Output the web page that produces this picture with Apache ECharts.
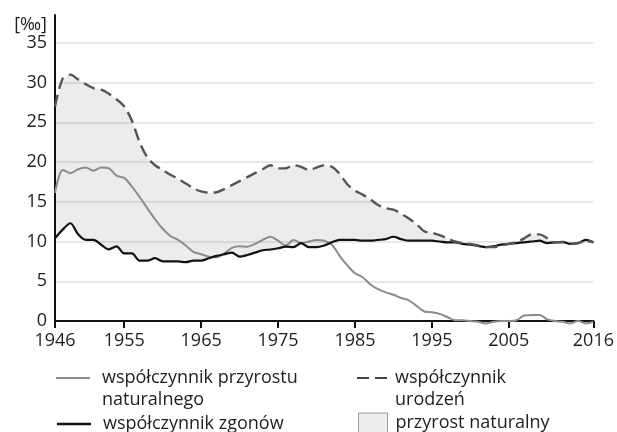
<!DOCTYPE html>
<html>
<head>
<meta charset="utf-8">
<script src="https://cdn.jsdelivr.net/npm/echarts@6/dist/echarts.min.js"></script>
<style>
html,body{margin:0;padding:0;background:#fff;}
#chart{width:617px;height:432px;}
</style>
</head>
<body>
<div id="chart"></div>
<script>
const years = [1946,1947,1948,1949,1950,1951,1952,1953,1954,1955,
  1956,1957,1958,1959,1960,1961,1962,1963,1964,1965,
  1966,1967,1968,1969,1970,1971,1972,1973,1974,1975,
  1976,1977,1978,1979,1980,1981,1982,1983,1984,1985,
  1986,1987,1988,1989,1990,1991,1992,1993,1994,1995,
  1996,1997,1998,1999,2000,2001,2002,2003,2004,2005,
  2006,2007,2008,2009,2010,2011,2012,2013,2014,2015,2016];

const birthRate = [27.0,30.5,31.0,30.4,29.8,29.3,29.1,28.6,27.9,27.0,
  25.2,22.5,20.6,19.6,19.0,18.4,17.9,17.3,16.7,16.3,
  16.15,16.2,16.6,17.1,17.6,18.1,18.6,19.1,19.6,19.2,
  19.2,19.6,19.4,19.0,19.3,19.6,19.4,18.5,17.2,16.4,
  15.9,15.3,14.6,14.2,14.0,13.5,12.9,12.2,11.3,11.1,
  10.8,10.4,10.0,9.8,9.7,9.5,9.3,9.3,9.5,9.7,
  9.9,10.4,10.9,10.9,10.4,9.9,9.9,9.7,9.8,10.1,9.9];

const deathRate = [10.4,11.5,12.3,10.9,10.2,10.2,9.6,9.0,9.4,8.5,
  8.5,7.6,7.6,7.9,7.5,7.5,7.5,7.4,7.6,7.6,
  7.9,8.2,8.4,8.6,8.1,8.3,8.6,8.9,9.0,9.15,
  9.35,9.3,9.8,9.3,9.3,9.5,9.9,10.2,10.2,10.2,
  10.1,10.1,10.2,10.3,10.6,10.3,10.1,10.1,10.1,10.1,
  10.0,9.9,9.9,9.7,9.6,9.45,9.3,9.4,9.6,9.7,
  9.8,9.9,10.0,10.1,9.8,9.9,9.95,9.7,9.8,10.2,9.9];

const naturalIncrease = [16.1,19.0,18.6,19.1,19.3,18.9,19.3,19.2,18.3,18.0,
  16.9,15.6,14.2,12.8,11.6,10.7,10.2,9.5,8.7,8.4,
  8.1,8.0,8.5,9.2,9.4,9.35,9.7,10.2,10.6,10.1,
  9.5,10.2,9.8,10.0,10.2,10.1,9.6,8.2,7.0,6.0,
  5.5,4.6,4.0,3.6,3.3,2.9,2.6,1.9,1.2,1.1,
  0.9,0.5,0.1,0.1,0.0,-0.1,-0.3,-0.1,0.0,0.0,
  0.1,0.7,0.75,0.75,0.2,0.0,-0.1,-0.3,0.0,-0.3,-0.1];

const xTickLabels = [1946,1955,1965,1975,1985,1995,2005,2016];
const yTickLabels = [0,5,10,15,20,25,30,35];

const NAME_NI = 'współczynnik przyrostu\nnaturalnego';
const NAME_DEATH = 'współczynnik zgonów';
const NAME_BIRTH = 'współczynnik\nurodzeń';
const NAME_BAND = 'przyrost naturalny';

const pairs = (arr) => years.map((y, i) => [y, arr[i]]);

const FONT = 'Open Sans';
const TXT = {fontSize: 18, fontFamily: FONT, color: '#1e1e1e', lineHeight: 22};

function legendBox(left, top, name, icon, w, h, padL, twoLine, itemStyle) {
  return {
    left: left, top: top, orient: 'vertical', padding: 0, itemGap: 0,
    itemWidth: w, itemHeight: h, selectedMode: false,
    textStyle: Object.assign({padding: [0, 0, 0, padL]}, TXT),
    formatter: twoLine ? (n) => ' \n' + n : (n) => n,
    data: [{name: name, icon: icon, itemStyle: itemStyle}]
  };
}

const chart = echarts.init(document.getElementById('chart'), null, {renderer: 'canvas'});
chart.setOption({
  animation: false,
  backgroundColor: '#ffffff',
  textStyle: {fontFamily: FONT},
  grid: {left: 55, right: 22, top: 15, bottom: 111, containLabel: false},
  xAxis: {
    type: 'value', min: 1946, max: 2016,
    axisLine: {show: true, lineStyle: {color: '#111', width: 2}},
    axisTick: {show: true, customValues: xTickLabels, length: 7, lineStyle: {color: '#111', width: 2}},
    axisLabel: {customValues: xTickLabels, margin: 11, color: '#1e1e1e', fontSize: 18, fontFamily: FONT,
      formatter: (v) => String(v)},
    splitLine: {show: false}
  },
  yAxis: {
    type: 'value', min: 0, max: 38.5,
    name: '[‰]', nameLocation: 'end', nameGap: -15,
    nameTextStyle: {color: '#1e1e1e', fontSize: 18, fontFamily: FONT, align: 'right', verticalAlign: 'middle', padding: [0, 8, 0, 0]},
    axisLine: {show: true, lineStyle: {color: '#111', width: 2}},
    axisTick: {show: false, customValues: yTickLabels},
    axisLabel: {customValues: yTickLabels, margin: 8, color: '#1e1e1e', fontSize: 18, fontFamily: FONT},
    splitLine: {show: true, lineStyle: {color: '#e2e2e2', width: 1.5}}
  },
  legend: [
    legendBox(56, 345, NAME_NI, 'rect', 34, 2, 7, true, {color: '#8c8c8c'}),
    legendBox(57, 413, NAME_DEATH, 'rect', 34, 2.5, 7, false, {color: '#111'}),
    legendBox(357, 345, NAME_BIRTH, 'path://M0,0h12v2h-12z M18,0h12v2h-12z', 30, 2, 3, true, {color: '#444'}),
    legendBox(358, 412, NAME_BAND, 'rect', 29, 20, 3, false, {color: '#ededed', borderColor: '#9a9a9a', borderWidth: 1})
  ],
  series: [
    {
      name: NAME_BAND, type: 'custom', silent: true, z: 1,
      color: '#ededed',
      data: [[years[0], birthRate[0]]],
      renderItem: function (params, api) {
        const pts = [];
        for (let i = 0; i < years.length; i++) pts.push(api.coord([years[i], birthRate[i]]));
        for (let i = years.length - 1; i >= 0; i--) pts.push(api.coord([years[i], deathRate[i]]));
        return {
          type: 'polygon',
          shape: {points: pts},
          style: {fill: 'rgba(0,0,0,0.075)', stroke: 'none'}
        };
      }
    },
    {
      name: NAME_NI, type: 'line', data: pairs(naturalIncrease), symbol: 'none', clip: false,
      smooth: 0.3,
      color: '#8c8c8c', lineStyle: {color: '#8c8c8c', width: 2}, z: 3
    },
    {
      name: NAME_DEATH, type: 'line', data: pairs(deathRate), symbol: 'none', clip: false,
      smooth: 0.3,
      color: '#111', lineStyle: {color: '#111', width: 2.2}, z: 4
    },
    {
      name: NAME_BIRTH, type: 'line', data: pairs(birthRate), symbol: 'none', clip: false,
      smooth: 0.3,
      color: '#555', lineStyle: {color: '#555', width: 2.4, type: [12, 6]}, z: 5
    }
  ]
});
</script>
</body>
</html>
